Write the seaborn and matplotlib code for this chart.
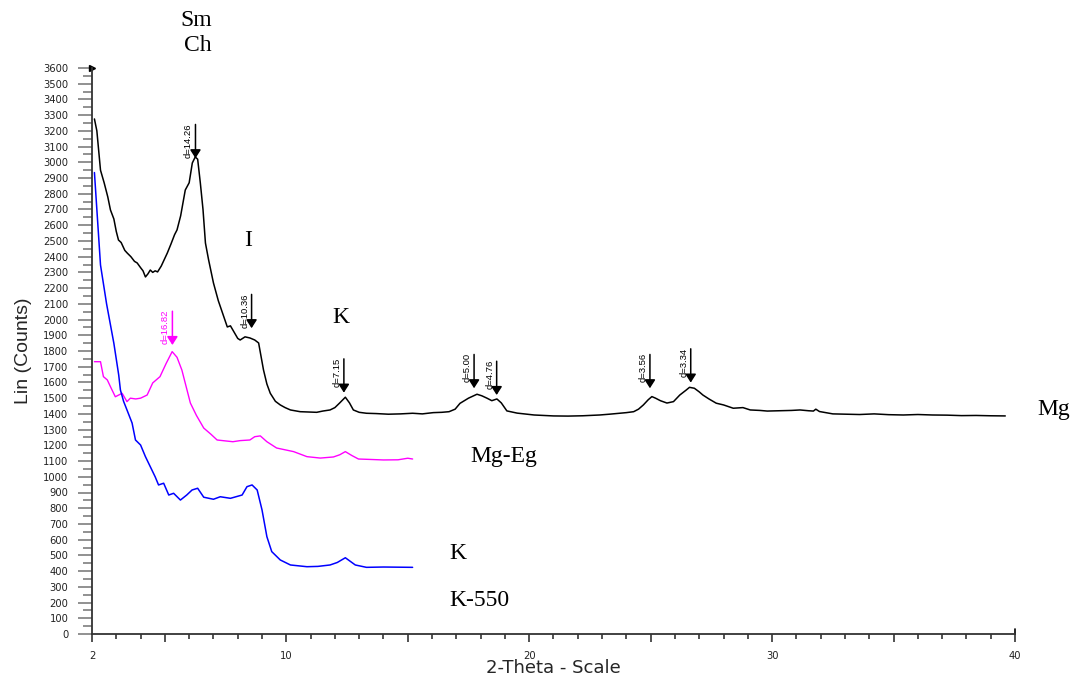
import numpy as np
import pandas as pd
import matplotlib
matplotlib.use('Agg')
import matplotlib.pyplot as plt
import seaborn as sns
from matplotlib.ticker import MultipleLocator, FixedLocator

# Mg sample (black)
mg_x = [2.1, 2.2, 2.35, 2.5, 2.65, 2.76, 2.9, 3.0, 3.09, 3.2, 3.35, 3.45, 3.6, 3.75, 3.86,
        4.0, 4.1, 4.2, 4.3, 4.4, 4.5, 4.6, 4.7, 4.85, 5.0, 5.1, 5.25, 5.4, 5.5, 5.65, 5.84,
        6.0, 6.13, 6.25, 6.35, 6.46, 6.57, 6.67, 6.8, 7.0, 7.2, 7.4, 7.57, 7.7, 7.85, 8.0,
        8.1, 8.3, 8.5, 8.7, 8.86, 9.06, 9.2, 9.34, 9.55, 9.75, 9.95, 10.17, 10.57, 10.9,
        11.25, 11.5, 11.8, 12.0, 12.2, 12.43, 12.6, 12.76, 13.0, 13.3, 13.7, 14.2, 14.7,
        15.2, 15.6, 16.05, 16.4, 16.7, 16.95, 17.15, 17.5, 17.85, 18.05, 18.26, 18.46,
        18.67, 18.85, 19.08, 19.5, 20.2, 20.6, 21.0, 21.6, 22.2, 22.9, 23.3, 23.7, 24.0,
        24.3, 24.5, 24.7, 24.9, 25.05, 25.2, 25.4, 25.67, 25.94, 26.2, 26.45, 26.6, 26.8,
        27.0, 27.15, 27.4, 27.7, 28.0, 28.4, 28.8, 29.1, 29.5, 29.8, 30.3, 30.8, 31.15,
        31.5, 31.7, 31.8, 31.95, 32.2, 32.5, 33.0, 33.6, 34.2, 34.8, 35.4, 36.0, 36.6,
        37.2, 37.8, 38.4, 39.0, 39.6]
mg_y = [3276, 3200, 2950, 2870, 2780, 2697, 2640, 2560, 2506, 2490, 2440, 2423, 2400, 2370, 2360,
        2330, 2310, 2271, 2290, 2315, 2300, 2310, 2303, 2340, 2390, 2423, 2480, 2540, 2570, 2660, 2824,
        2870, 2996, 3034, 3020, 2869, 2700, 2487, 2380, 2233, 2120, 2030, 1953, 1960, 1920, 1880,
        1870, 1890, 1883, 1870, 1851, 1680, 1590, 1531, 1480, 1457, 1440, 1425, 1414, 1412,
        1410, 1418, 1425, 1440, 1470, 1506, 1470, 1425, 1410, 1404, 1402, 1398, 1400,
        1404, 1400, 1408, 1410, 1414, 1430, 1467, 1500, 1525, 1515, 1500, 1484,
        1495, 1470, 1419, 1405, 1393, 1390, 1387, 1386, 1388, 1393, 1398, 1404, 1408,
        1414, 1430, 1457, 1490, 1510, 1500, 1484, 1469, 1478, 1520, 1550, 1569, 1563,
        1540, 1520, 1495, 1468, 1457, 1436, 1440, 1425, 1422, 1418, 1420, 1422, 1425,
        1420, 1418, 1430, 1415, 1408, 1400, 1398, 1396, 1400, 1395, 1393, 1396, 1393,
        1392, 1389, 1390, 1388, 1387]

# Mg-Eg sample (magenta)
eg_x = [2.1, 2.35, 2.47, 2.63, 2.8, 2.96, 3.1, 3.24, 3.44, 3.58, 3.8, 4.0, 4.27, 4.5, 4.8,
        5.05, 5.3, 5.5, 5.7, 6.05, 6.3, 6.6, 6.9, 7.15, 7.5, 7.8, 8.1, 8.5, 8.7, 8.93, 9.2,
        9.6, 10.3, 10.85, 11.4, 11.94, 12.2, 12.43, 12.7, 12.97, 13.5, 14.0, 14.6, 15.0, 15.2]
eg_y = [1732, 1732, 1637, 1616, 1560, 1509, 1520, 1531, 1478, 1500, 1495, 1500, 1520, 1597, 1637,
        1720, 1796, 1760, 1679, 1469, 1390, 1310, 1270, 1234, 1228, 1223, 1230, 1234, 1255, 1260, 1223,
        1183, 1160, 1128, 1119, 1126, 1140, 1160, 1135, 1113, 1110, 1107, 1108, 1118, 1113]

# K-550 sample (blue)
k_x = [2.1, 2.35, 2.6, 2.9, 3.1, 3.17, 3.3, 3.44, 3.65, 3.79, 4.0, 4.2, 4.4, 4.6, 4.74, 4.95,
       5.16, 5.36, 5.64, 5.9, 6.12, 6.35, 6.6, 7.0, 7.28, 7.7, 8.18, 8.38, 8.59, 8.8, 9.0,
       9.2, 9.4, 9.75, 10.17, 10.85, 11.3, 11.8, 12.1, 12.43, 12.84, 13.3, 14.0, 14.6, 15.2]
k_y = [2935, 2347, 2100, 1849, 1647, 1552, 1480, 1425, 1342, 1234, 1202, 1128, 1064, 1000, 948, 959,
       884, 895, 852, 884, 916, 927, 870, 857, 873, 863, 884, 937, 948, 916, 789,
       619, 524, 471, 439, 428, 430, 439, 455, 485, 439, 424, 426, 425, 424]

# peak markers: d-spacing label, 2-theta, intensity at arrow tip
peak_lbl = ['d=14.26', 'd=10.36', 'd=7.15', 'd=5.00', 'd=4.76', 'd=3.56', 'd=3.34']
peak_x = [6.26, 8.57, 12.37, 17.73, 18.66, 24.97, 26.65]
peak_tip = [3026, 1945, 1535, 1563, 1520, 1563, 1599]
eg_peak_lbl = ['d=16.82']
eg_peak_x = [5.31]
eg_peak_tip = [1838]

sns.set_style('white')
plt.rcParams['font.family'] = ['DejaVu Sans']

fig = plt.figure(figsize=(10.73, 6.77), dpi=100)
ax = fig.add_axes([92/1073, 43/677, 923/1073, 566/677])

df_mg = pd.DataFrame({'x': mg_x, 'y': mg_y})
df_eg = pd.DataFrame({'x': eg_x, 'y': eg_y})
df_k = pd.DataFrame({'x': k_x, 'y': k_y})
sns.lineplot(data=df_mg, x='x', y='y', color='black', lw=1.1, ax=ax, sort=False)
sns.lineplot(data=df_eg, x='x', y='y', color='#ff00ff', lw=1.0, ax=ax, sort=False)
sns.lineplot(data=df_k, x='x', y='y', color='#0000ff', lw=1.1, ax=ax, sort=False)

ax.set_xlim(2, 40)
ax.set_ylim(0, 3600)

# axes look
for s in ['top', 'right']:
    ax.spines[s].set_visible(False)
for s in ['left', 'bottom']:
    ax.spines[s].set_color('#333333')
    ax.spines[s].set_linewidth(1.3)

ax.yaxis.set_major_locator(MultipleLocator(100))
ax.yaxis.set_minor_locator(MultipleLocator(50))
ax.tick_params(axis='y', which='major', length=10, width=1.4, color='#909090',
               labelsize=7.2, pad=7, labelcolor='#222222', direction='out', left=True)
ax.tick_params(axis='y', which='minor', length=6.5, width=1.4, color='#909090', left=True)

xmaj = [2, 5, 10, 15, 20, 25, 30, 35, 40]
ax.xaxis.set_major_locator(FixedLocator(xmaj))
ax.set_xticklabels([str(v) if v in (2, 10, 20, 30, 40) else '' for v in xmaj])
ax.xaxis.set_minor_locator(MultipleLocator(1))
ax.tick_params(axis='x', which='major', length=6, width=1.2, color='#333333',
               labelsize=7.2, pad=6, labelcolor='#222222', direction='out', bottom=True)
ax.tick_params(axis='x', which='minor', length=3.5, width=1.2, color='#333333', bottom=True)

ax.set_xlabel('2-Theta - Scale', fontsize=13, family='DejaVu Sans', va='center')
ax.xaxis.set_label_coords(0.5, -0.06)
ax.set_ylabel('Lin (Counts)', fontsize=14, labelpad=8, family='Liberation Sans')

# small axis-end arrows
ax.plot([2], [3600], marker='>', ms=4, color='black', clip_on=False)
ax.plot([40, 40], [0, 30], color='black', lw=1.2, clip_on=False)

# d-spacing arrows
def mark(labels, xs, tips, col):
    for lbl, x, tip in zip(labels, xs, tips):
        top = tip + 215
        ax.annotate('', xy=(x, tip), xytext=(x, top),
                    arrowprops=dict(arrowstyle='-|>,head_length=0.5,head_width=0.32',
                                    color=col, lw=1.1, shrinkA=0, shrinkB=0,
                                    mutation_scale=10))
        ax.text(x - 0.1, top + 8, lbl, rotation=90, ha='right', va='top',
                fontsize=6.8, color=col, family='Liberation Sans')

mark(peak_lbl, peak_x, peak_tip, 'black')
mark(eg_peak_lbl, eg_peak_x, eg_peak_tip, '#ff00ff')

# mineral / sample labels
serif = dict(family='Liberation Serif', fontsize=17, color='black', clip_on=False)
ax.text(6.28, 3899, 'Sm', ha='center', va='center', **serif)
ax.text(6.36, 3740, 'Ch', ha='center', va='center', **serif)
ax.text(8.42, 2506, 'I', ha='center', va='center', **serif)
ax.text(12.25, 2010, 'K', ha='center', va='center', **serif)
ax.text(40.9, 1425, 'Mg', ha='left', va='center', **serif)
ax.text(17.56, 1132, 'Mg-Eg', ha='left', va='center', **serif)
ax.text(16.7, 515, 'K', ha='left', va='center', **serif)
ax.text(16.7, 210, 'K-550', ha='left', va='center', **serif)

fig.savefig('out.png', dpi=100)
